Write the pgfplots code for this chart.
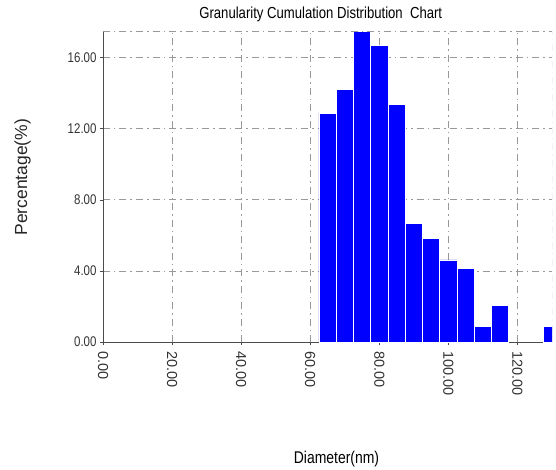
\documentclass[border=0pt]{standalone}
\usepackage{pgfplots}
\pgfplotsset{compat=1.18}
\usepackage{fontspec}
\setmainfont{Liberation Sans}
\newfontfamily\narrow[FakeStretch=0.82]{Liberation Sans}
\begin{document}
\begin{tikzpicture}
\begin{axis}[
  scale only axis,
  width=449pt, height=311pt,
  xmin=0, xmax=130, ymin=0, ymax=17.5,
  axis lines*=left,
  axis line style={draw=black!70, line width=0.8pt},
  xtick={0,20,40,60,80,100,120},
  ytick={0,4,8,12,16},
  tick align=outside,
  tick style={black!70, line width=0.6pt},
  major tick length=3pt,
  /pgf/number format/assume math mode=true,
  /pgf/number format/fixed, /pgf/number format/fixed zerofill, /pgf/number format/precision=2,
  xticklabel style={rotate=-90, anchor=west, font=\fontsize{14.5}{14.5}\selectfont, text=black!80, xshift=3pt},
  yticklabel style={font=\narrow\fontsize{14}{14}\selectfont, text=black!80},
  grid=major,
  grid style={draw=black!40, line width=0.7pt, dash pattern=on 7pt off 4pt on 1.5pt off 4pt},
  title={\narrow\fontsize{16}{16}\selectfont Granularity Cumulation Distribution\ \ Chart},
  title style={at={(0.485,1)}, anchor=south, yshift=0pt},
  xlabel={\narrow\fontsize{17}{17}\selectfont Diameter(nm)},
  ylabel={\fontsize{17.5}{17.5}\selectfont Percentage(\%)},
  xlabel style={at={(0.52,0)}, anchor=north, yshift=-106pt},
  ylabel style={at={(ticklabel cs:0.53)}, yshift=30pt, text=black!85},
]
\addplot[ybar, bar width=5, bar shift=0pt, fill={rgb,255:red,0;green,0;blue,255}, draw=white, line width=0.7pt] coordinates {
(65,12.88) (70,14.2) (75,17.5) (80,16.68) (85,13.39) (90,6.69) (95,5.84)
(100,4.62) (105,4.15) (110,0.86) (115,2.07) (130,0.86)};
\draw[draw=black!40, line width=0.7pt, dash pattern=on 7pt off 4pt on 1.5pt off 4pt]
  (rel axis cs:0,1) -- (rel axis cs:1,1) -- (rel axis cs:1,0);
\end{axis}
\pgfresetboundingbox
\path ([xshift=-103pt,yshift=-127pt]current axis.south west) rectangle ([xshift=4pt,yshift=31pt]current axis.north east);
\end{tikzpicture}
\end{document}
